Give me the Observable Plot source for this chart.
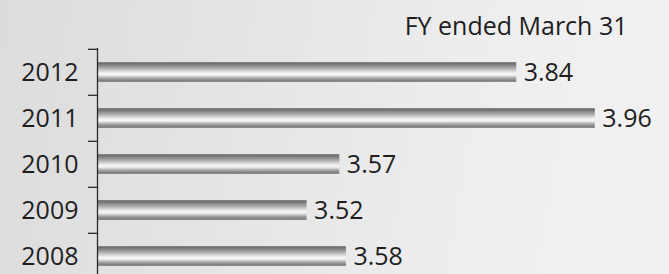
<!DOCTYPE html>
<html>
<head>
<meta charset="utf-8">
<script src="https://cdn.jsdelivr.net/npm/d3@7"></script>
<script src="https://cdn.jsdelivr.net/npm/@observablehq/plot@0.6"></script>
<style>
  html, body { margin: 0; padding: 0; }
  body {
    width: 669px; height: 274px; overflow: hidden;
    background: linear-gradient(100deg, #dcdcdc 0%, #e6e6e6 40%, #efefef 75%, #f1f1f1 100%);
  }
</style>
</head>
<body>
<div id="chart"></div>
<script>
const years = ["2012", "2011", "2010", "2009", "2008"];
const values = [3.84, 3.96, 3.57, 3.52, 3.58];
const title = "FY ended March 31";
const xDomain = [3.2, 4.0];

const data = years.map((y, i) => ({year: y, value: values[i]}));

function defs() {
  const ns = "http://www.w3.org/2000/svg";
  const d = document.createElementNS(ns, "defs");
  const g = document.createElementNS(ns, "linearGradient");
  g.setAttribute("id", "metal");
  g.setAttribute("x1", "0"); g.setAttribute("y1", "0");
  g.setAttribute("x2", "0"); g.setAttribute("y2", "1");
  const stops = [
    [0, "#666666"], [0.12, "#7c7c7c"], [0.3, "#a9a9a9"], [0.48, "#dedede"],
    [0.6, "#fbfbfb"], [0.68, "#e6e6e6"], [0.82, "#a4a4a4"], [1, "#6e6e6e"]
  ];
  for (const [o, c] of stops) {
    const s = document.createElementNS(ns, "stop");
    s.setAttribute("offset", o);
    s.setAttribute("stop-color", c);
    g.appendChild(s);
  }
  d.appendChild(g);
  return d;
}

const chart = Plot.plot({
  width: 669,
  height: 274,
  marginLeft: 97,
  marginRight: 48,
  marginTop: 48,
  marginBottom: 0,
  style: {background: "transparent", fontFamily: "'Open Sans', sans-serif", fontSize: "25px", color: "#1e1e1e"},
  x: {domain: xDomain, axis: null},
  y: {domain: years, range: [48, 280], padding: 0, axis: null},
  marks: [
    defs,
    Plot.barX(data, {x1: xDomain[0], x2: "value", y: "year", insetTop: 13.2, insetBottom: 13.2, fill: "url(#metal)"}),
    Plot.axisY({anchor: "left", tickSize: 9, text: null, label: null, dy: -23.2, stroke: "#2a2a2a", strokeWidth: 1.3}),
    Plot.ruleX([xDomain[0]], {stroke: "#2a2a2a", strokeWidth: 1.3}),
    Plot.text(data, {x: xDomain[0], y: "year", text: "year", textAnchor: "end", dx: -19, fill: "#1e1e1e"}),
    Plot.text(data, {x: "value", y: "year", text: d => d.value.toFixed(2), textAnchor: "start", dx: 7, fill: "#1e1e1e"}),
    Plot.text([title], {frameAnchor: "top-right", textAnchor: "end", lineAnchor: "bottom", dx: 6, dy: -14, fill: "#1e1e1e"})
  ]
});
document.getElementById("chart").appendChild(chart);
</script>
</body>
</html>
